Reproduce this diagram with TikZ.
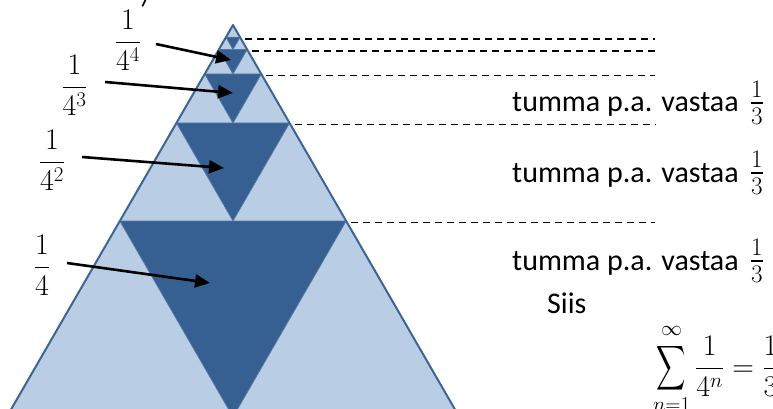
\RequirePackage{fix-cm}
\documentclass[tikz,border=0pt]{standalone}
\usepackage{amsmath}
\usepackage{graphicx}
\usepackage[no-math]{fontspec}
\setmainfont{Carlito}
\usetikzlibrary{arrows.meta,calc}

\definecolor{lightfill}{HTML}{B9CDE5}
\definecolor{darkfill}{HTML}{376092}
\definecolor{edgeblue}{HTML}{3D6594}
\definecolor{inneredge}{HTML}{5679A6}

% a taller summation sign
\newcommand{\bigsum}{\mathop{\vcenter{\hbox{\scalebox{0.82}[1.25]{$\displaystyle\sum$}}}}\limits}
% the fraction at the end of each row
\newcommand{\third}{\kern11pt\scalebox{1.2}{$\frac{1}{3}$}}

\begin{document}
\begin{tikzpicture}[x=1pt,y=-1pt,
  outline/.style={draw=edgeblue,line width=2pt,line join=round},
  darktri/.style={fill=darkfill,draw=inneredge,line width=0.7pt,line join=round},
  levelline/.style={draw=black,line width=1.8pt,dash pattern=on 7pt off 5pt},
  pointer/.style={draw=black,line width=2.6pt,-{Triangle[length=15pt,width=13pt]}},
  fraclabel/.style={anchor=base,inner sep=0pt,font=\fontsize{30}{36}\selectfont},
  rowtext/.style={anchor=base west,inner sep=0pt,font=\fontsize{30}{36}\selectfont},
]
\useasboundingbox (0,0) rectangle (773,409);
\clip (0,0) rectangle (773,409);

% the big triangle: apex, height and base corners
\def\trih{392}
\coordinate (apex) at (233,25);
\coordinate (bl) at ({233-\trih/sqrt(3)},{25+\trih});
\coordinate (br) at ({233+\trih/sqrt(3)},{25+\trih});
\coordinate (dashend) at (655,0);

\fill[lightfill] (apex) -- (bl) -- (br) -- cycle;

% the dark middle triangles, each one inside the top corner of the previous level
\foreach \k in {1,...,5}{
  \pgfmathsetmacro{\ym}{25+\trih/2^\k}
  \pgfmathsetmacro{\hw}{\trih/sqrt(3)/2^\k}
  \pgfmathsetmacro{\yv}{25+\trih/2^(\k-1)}
  \coordinate (dl\k) at ({233-\hw},\ym);
  \coordinate (dr\k) at ({233+\hw},\ym);
  \coordinate (dv\k) at (233,\yv);
  \path[darktri] (dl\k) -- (dr\k) -- (dv\k) -- cycle;
}

\path[outline] (apex) -- (bl) -- (br) -- cycle;

% level lines to the right
\foreach \k in {1,...,5}{
  \draw[levelline] ($(dr\k)+(5,1.5)$) -- ($(dr\k -| dashend)+(0,1.5)$);
}

% fraction labels
\node[fraclabel] (f1) at (42,274.5) {$\dfrac{1}{4}$};
\node[fraclabel] (f2) at (52,169.5) {$\dfrac{1}{4^2}$};
\node[fraclabel] (f3) at (74.5,94.5) {$\dfrac{1}{4^3}$};
\node[fraclabel] (f4) at (128,49.5) {$\dfrac{1}{4^4}$};
\draw[line width=1.6pt,line cap=round] (145.5,0) -- (142.5,6);

% arrows from the labels into the dark triangles
\coordinate (t1) at (67,263);   \coordinate (h1) at (210,283);
\coordinate (t2) at (82,157);   \coordinate (h2) at (224,168);
\coordinate (t3) at (105,82);   \coordinate (h3) at (233,93);
\coordinate (t4) at (156,44);   \coordinate (h4) at (231,60);
\foreach \k in {1,...,4}{
  \draw[pointer] (t\k) -- (h\k);
}

% text on the right
\node[rowtext] (r1) at (512,112) {tumma p.a. vastaa\third};
\node[rowtext] (r2) at (512,182) {tumma p.a. vastaa\third};
\node[rowtext] (r3) at (512,270) {tumma p.a. vastaa\third};
\node[rowtext] (siis) at (547,313) {Siis};
\node[anchor=base west,inner sep=0pt,font=\fontsize{30}{36}\selectfont] (sum)
  at (653,376) {$\displaystyle\bigsum_{n=1}^{\raisebox{3pt}{$\scriptstyle\infty$}}\frac{1}{4^n}=\frac{1}{3}$};
\end{tikzpicture}
\end{document}
